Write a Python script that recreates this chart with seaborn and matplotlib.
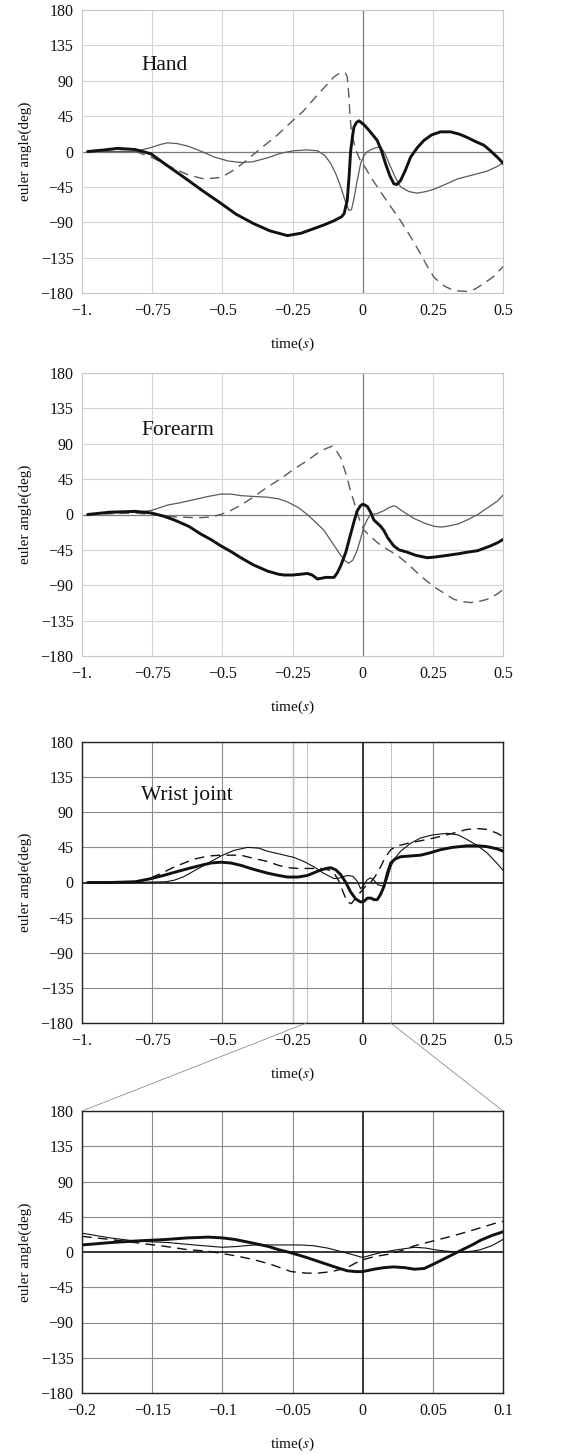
import numpy as np
import pandas as pd
import matplotlib
matplotlib.use("Agg")
import matplotlib.pyplot as plt
import seaborn as sns
from matplotlib.patches import ConnectionPatch

# ---------------- data ----------------
# Hand
hand_thick_t = [-0.98, -0.92, -0.873, -0.81, -0.754, -0.70, -0.636, -0.57, -0.505, -0.45, -0.387, -0.33, -0.268, -0.22, -0.173, -0.135, -0.102, -0.075, -0.066, -0.055, -0.048, -0.043, -0.036, -0.031, -0.022, -0.013, 0.005, 0.020, 0.034, 0.052, 0.068, 0.082, 0.097, 0.111, 0.122, 0.135, 0.152, 0.171, 0.195, 0.218, 0.245, 0.277, 0.313, 0.345, 0.372, 0.40, 0.432, 0.455, 0.479, 0.509]
hand_thick_v = [0, 2, 4, 2.5, -3, -17, -33, -50, -66, -80, -92, -101, -107, -104, -98, -93, -88, -83, -79, -62, -30, 0, 20, 31, 37, 39, 34, 28, 22, 14, 0, -16, -31, -41, -42, -37, -24, -7, 5, 14, 21, 25, 25, 22, 18, 13, 8, 1, -7, -18]
hand_thin_t = [-0.98, -0.81, -0.754, -0.72, -0.695, -0.66, -0.624, -0.58, -0.529, -0.48, -0.434, -0.39, -0.339, -0.29, -0.244, -0.20, -0.161, -0.135, -0.114, -0.095, -0.078, -0.062, -0.049, -0.040, -0.031, -0.020, -0.007, 0.005, 0.017, 0.040, 0.064, 0.080, 0.094, 0.115, 0.135, 0.165, 0.194, 0.225, 0.254, 0.30, 0.337, 0.39, 0.443, 0.48, 0.509]
hand_thin_v = [0, 0, 5, 9, 11, 10, 7, 1, -7, -12, -14, -13, -8, -2, 1, 2, 1, -5, -15, -29, -45, -63, -75, -74, -60, -38, -15, -5, 0, 4, 6, -3, -15, -32, -45, -51, -53, -51, -48, -41, -35, -30, -25, -19, -12]
hand_dash_t = [-0.98, -0.81, -0.754, -0.71, -0.671, -0.62, -0.564, -0.505, -0.47, -0.434, -0.40, -0.363, -0.31, -0.268, -0.21, -0.161, -0.13, -0.102, -0.085, -0.072, -0.062, -0.055, -0.050, -0.045, -0.040, -0.025, -0.010, 0.005, 0.028, 0.052, 0.09, 0.135, 0.17, 0.206, 0.23, 0.254, 0.29, 0.325, 0.372, 0.40, 0.432, 0.47, 0.509]
hand_dash_v = [0, 0, -7, -15, -22, -30, -35, -33, -26, -17, -7, 4, 19, 33, 52, 72, 84, 95, 99, 101, 100, 95, 75, 45, 25, 2, -10, -18, -32, -45, -65, -88, -108, -130, -146, -160, -171, -177, -178, -175, -168, -158, -143]

# Forearm
fore_thick_t = [-0.98, -0.90, -0.81, -0.754, -0.71, -0.671, -0.62, -0.576, -0.54, -0.505, -0.47, -0.434, -0.39, -0.339, -0.30, -0.280, -0.25, -0.221, -0.197, -0.180, -0.161, -0.145, -0.132, -0.115, -0.102, -0.090, -0.078, -0.060, -0.043, -0.030, -0.019, -0.008, 0.0, 0.008, 0.017, 0.028, 0.040, 0.052, 0.064, 0.075, 0.090, 0.111, 0.13, 0.159, 0.19, 0.230, 0.26, 0.301, 0.34, 0.372, 0.41, 0.455, 0.48, 0.509]
fore_thick_v = [0, 3, 4, 2, -2, -7, -15, -25, -32, -40, -47, -55, -64, -72, -76, -77, -77, -76, -75, -77, -82, -81, -80, -80, -80, -74, -65, -48, -25, -8, 5, 11, 13, 12, 10, 3, -7, -11, -15, -20, -30, -40, -45, -48, -52, -55, -54, -52, -50, -48, -46, -40, -36, -30]
fore_thin_t = [-0.98, -0.90, -0.81, -0.754, -0.695, -0.65, -0.600, -0.55, -0.505, -0.47, -0.434, -0.39, -0.339, -0.30, -0.268, -0.23, -0.197, -0.17, -0.138, -0.11, -0.078, -0.062, -0.049, -0.035, -0.019, -0.005, 0.005, 0.017, 0.028, 0.050, 0.076, 0.095, 0.111, 0.120, 0.135, 0.160, 0.183, 0.22, 0.254, 0.28, 0.301, 0.34, 0.372, 0.41, 0.443, 0.48, 0.509]
fore_thin_v = [0, 2, 3, 5, 12, 15, 19, 23, 26, 26, 24, 23, 22, 20, 16, 9, 0, -9, -20, -35, -52, -59, -62, -58, -45, -28, -15, -6, 0, 1, 5, 9, 11, 10, 6, 0, -5, -11, -15, -16, -15, -12, -7, 0, 8, 17, 28]
fore_dash_t = [-0.98, -0.90, -0.81, -0.754, -0.671, -0.600, -0.576, -0.54, -0.505, -0.47, -0.434, -0.39, -0.339, -0.29, -0.244, -0.20, -0.161, -0.13, -0.108, -0.095, -0.078, -0.060, -0.043, -0.030, -0.019, -0.008, 0.005, 0.028, 0.05, 0.076, 0.105, 0.135, 0.17, 0.206, 0.254, 0.29, 0.325, 0.36, 0.384, 0.41, 0.443, 0.48, 0.509]
fore_dash_v = [0, 1, 2, 0, -3, -4, -4, -3, 0, 5, 12, 22, 35, 46, 58, 68, 78, 84, 87, 82, 72, 52, 30, 15, 2, -10, -20, -28, -35, -42, -48, -55, -66, -78, -92, -100, -108, -111, -112, -111, -108, -101, -93]

# Wrist joint
wrist_thick_t = [-0.98, -0.90, -0.81, -0.754, -0.71, -0.671, -0.62, -0.576, -0.54, -0.505, -0.47, -0.434, -0.39, -0.339, -0.30, -0.268, -0.23, -0.197, -0.17, -0.149, -0.130, -0.114, -0.095, -0.078, -0.060, -0.043, -0.025, -0.007, 0.005, 0.017, 0.030, 0.040, 0.052, 0.064, 0.076, 0.088, 0.100, 0.115, 0.135, 0.17, 0.206, 0.24, 0.277, 0.32, 0.372, 0.41, 0.443, 0.48, 0.509]
wrist_thick_v = [0, 0, 1, 5, 9, 13, 18, 22, 25, 26, 25, 22, 17, 12, 9, 7, 7, 9, 13, 16, 18, 19, 16, 10, 0, -12, -21, -25, -24, -20, -20, -22, -22, -15, -5, 12, 25, 30, 33, 34, 35, 38, 42, 45, 47, 47, 46, 43, 39]
wrist_thin_t = [-0.98, -0.81, -0.70, -0.671, -0.64, -0.600, -0.55, -0.505, -0.46, -0.410, -0.37, -0.339, -0.29, -0.244, -0.21, -0.173, -0.14, -0.102, -0.080, -0.055, -0.035, -0.020, -0.007, 0.005, 0.015, 0.028, 0.040, 0.055, 0.076, 0.088, 0.100, 0.115, 0.135, 0.17, 0.206, 0.25, 0.301, 0.34, 0.372, 0.41, 0.443, 0.48, 0.509]
wrist_thin_v = [0, 0, 1, 3, 7, 15, 25, 34, 41, 45, 44, 40, 36, 32, 27, 20, 12, 5, 6, 9, 8, 2, -8, -3, 3, 6, 3, -3, -5, 5, 20, 31, 40, 50, 57, 61, 63, 61, 55, 47, 38, 24, 12]
wrist_dash_t = [-0.98, -0.81, -0.754, -0.71, -0.671, -0.600, -0.55, -0.505, -0.434, -0.39, -0.339, -0.30, -0.268, -0.23, -0.197, -0.149, -0.12, -0.102, -0.085, -0.070, -0.055, -0.040, -0.025, -0.007, 0.010, 0.028, 0.045, 0.064, 0.080, 0.100, 0.125, 0.159, 0.20, 0.254, 0.31, 0.372, 0.41, 0.443, 0.48, 0.509]
wrist_dash_v = [0, 0, 6, 13, 20, 30, 34, 35, 35, 31, 27, 22, 19, 18, 18, 18, 16, 12, 2, -12, -25, -27, -20, -12, -5, 0, 8, 20, 32, 42, 47, 50, 53, 57, 62, 68, 69, 68, 63, 57]

# Wrist joint, zoom on [-0.2, 0.1]
zoom_thick_t = [-0.2, -0.18, -0.162, -0.14, -0.125, -0.11, -0.10, -0.091, -0.08, -0.067, -0.060, -0.051, -0.040, -0.030, -0.020, -0.011, -0.005, 0.0, 0.008, 0.015, 0.022, 0.030, 0.037, 0.044, 0.051, 0.060, 0.070, 0.078, 0.084, 0.092, 0.102]
zoom_thick_v = [9, 12, 14, 16, 18, 19, 18, 16, 12, 7, 3, -1, -7, -13, -19, -24, -25, -25, -22, -20, -19, -20, -22, -21, -15, -7, 2, 9, 15, 21, 27]
zoom_thin_t = [-0.2, -0.18, -0.162, -0.138, -0.12, -0.1, -0.09, -0.077, -0.06, -0.044, -0.035, -0.025, -0.012, 0.0, 0.008, 0.015, 0.025, 0.037, 0.045, 0.051, 0.060, 0.070, 0.078, 0.084, 0.092, 0.102]
zoom_thin_v = [24, 18, 14, 12, 9, 6, 7, 9, 9, 9, 8, 5, -1, -7, -3, 0, 3, 6, 5, 3, 1, 0, 1, 3, 8, 18]
zoom_dash_t = [-0.2, -0.18, -0.162, -0.14, -0.125, -0.11, -0.09, -0.077, -0.065, -0.051, -0.040, -0.032, -0.022, -0.011, -0.005, 0.0, 0.008, 0.018, 0.028, 0.037, 0.050, 0.063, 0.075, 0.086, 0.095, 0.102]
zoom_dash_v = [20, 16, 12, 7, 3, 1, -5, -10, -16, -25, -27, -27, -25, -20, -14, -10, -6, -3, 2, 8, 14, 20, 26, 32, 37, 40]

yticks = [-180, -135, -90, -45, 0, 45, 90, 135, 180]
ytick_labels = ["\u2212180", "\u2212135", "\u221290", "\u221245", "0", "45", "90", "135", "180"]
xticks_main = [-1.0, -0.75, -0.5, -0.25, 0.0, 0.25, 0.5]
xtick_labels_main = ["\u22121.", "\u22120.75", "\u22120.5", "\u22120.25", "0", "0.25", "0.5"]
xticks_zoom = [-0.2, -0.15, -0.1, -0.05, 0.0, 0.05, 0.1]
xtick_labels_zoom = ["\u22120.2", "\u22120.15", "\u22120.1", "\u22120.05", "0", "0.05", "0.1"]
panel_titles = ["Hand", "Forearm", "Wrist joint"]

# ---------------- style ----------------
sns.set_theme(style="white")
plt.rcParams["font.family"] = ["Liberation Serif", "DejaVu Serif"]
plt.rcParams["mathtext.fontset"] = "stix"
plt.rcParams["axes.unicode_minus"] = True

fig = plt.figure(figsize=(5.78, 14.55), dpi=100)
L, W = 82 / 578, 421 / 578
def rect(top_px, bot_px):
    return [L, 1 - bot_px / 1455, W, (bot_px - top_px) / 1455]

ax1 = fig.add_axes(rect(10, 293))
ax2 = fig.add_axes(rect(373, 656))
ax3 = fig.add_axes(rect(742, 1023))
ax4 = fig.add_axes(rect(1111, 1393))

def draw(ax, thick, thin, dash, light):
    col_thin = "#5a5a5a" if light else "#111111"
    col_dash = "#5a5a5a" if light else "#111111"
    sns.lineplot(x=dash[0], y=dash[1], ax=ax, color=col_dash, linewidth=1.0,
                 linestyle=(0, (7, 4.5)), zorder=3)
    sns.lineplot(x=thin[0], y=thin[1], ax=ax, color=col_thin,
                 linewidth=0.9 if light else 0.8, zorder=3)
    sns.lineplot(x=thick[0], y=thick[1], ax=ax, color="#111111", linewidth=2.1, zorder=4)

def style(ax, xticks, xlabels, xlim, light):
    ax.set_xlim(*xlim)
    ax.set_ylim(-180, 180)
    ax.set_yticks(yticks)
    ax.set_yticklabels(ytick_labels)
    ax.set_xticks(xticks)
    ax.set_xticklabels(xlabels)
    gcol = "#d4d4d4" if light else "#8a8a8a"
    for v in xticks:
        if v != 0:
            ax.axvline(v, color=gcol, lw=0.8, zorder=1)
    for v in yticks:
        if v != 0:
            ax.axhline(v, color=gcol, lw=0.8, zorder=1)
    zcol = "#7a7a7a" if light else "#000000"
    ax.axvline(0, color=zcol, lw=0.9 if light else 1.1, zorder=2)
    ax.axhline(0, color=zcol, lw=0.9 if light else 1.1, zorder=2)
    for s in ax.spines.values():
        s.set_color("#c8c8c8" if light else "#222222")
        s.set_linewidth(0.8 if light else 1.0)
        s.set_visible(True)
    ax.tick_params(axis="both", length=0, labelsize=11.5, colors="#111111")
    ax.tick_params(axis="x", pad=7)
    ax.tick_params(axis="y", pad=6)
    ax.set_ylabel("euler angle(deg)", fontsize=11, color="#111111", labelpad=6)
    ax.set_xlabel("time(" + r"$\mathit{s}$" + ")", fontsize=11, color="#111111", labelpad=12)
    ax.grid(False)

draw(ax1, (hand_thick_t, hand_thick_v), (hand_thin_t, hand_thin_v), (hand_dash_t, hand_dash_v), True)
draw(ax2, (fore_thick_t, fore_thick_v), (fore_thin_t, fore_thin_v), (fore_dash_t, fore_dash_v), True)
draw(ax3, (wrist_thick_t, wrist_thick_v), (wrist_thin_t, wrist_thin_v), (wrist_dash_t, wrist_dash_v), False)
draw(ax4, (zoom_thick_t, zoom_thick_v), (zoom_thin_t, zoom_thin_v), (zoom_dash_t, zoom_dash_v), False)

style(ax1, xticks_main, xtick_labels_main, (-1.0, 0.5), True)
style(ax2, xticks_main, xtick_labels_main, (-1.0, 0.5), True)
style(ax3, xticks_main, xtick_labels_main, (-1.0, 0.5), False)
style(ax4, xticks_zoom, xtick_labels_zoom, (-0.2, 0.1), False)

# lighter grid line at -0.25 in wrist panel, plus zoom window markers
ax3.axvline(-0.25, color="#bdbdbd", lw=1.0, zorder=1.5)
ax3.axvline(-0.2, color="#777777", lw=0.6, ls=(0, (1, 1)), zorder=1.5)
ax3.axvline(0.1, color="#777777", lw=0.6, ls=(0, (1, 1)), zorder=1.5)

for ax, title, y in zip([ax1, ax2, ax3], panel_titles, [110, 107, 112]):
    ax.text(-0.79, y, title, fontsize=15.5, ha="left", va="center", color="#111111", zorder=5)

for xa, xb in [(-0.2, -0.2), (0.1, 0.1)]:
    cp = ConnectionPatch(xyA=(xa, -180), coordsA="data", axesA=ax3,
                         xyB=(xb, 180), coordsB="data", axesB=ax4,
                         color="#777777", lw=0.6, ls=(0, (1, 1)))
    fig.add_artist(cp)

fig.savefig("out.png", dpi=100)
